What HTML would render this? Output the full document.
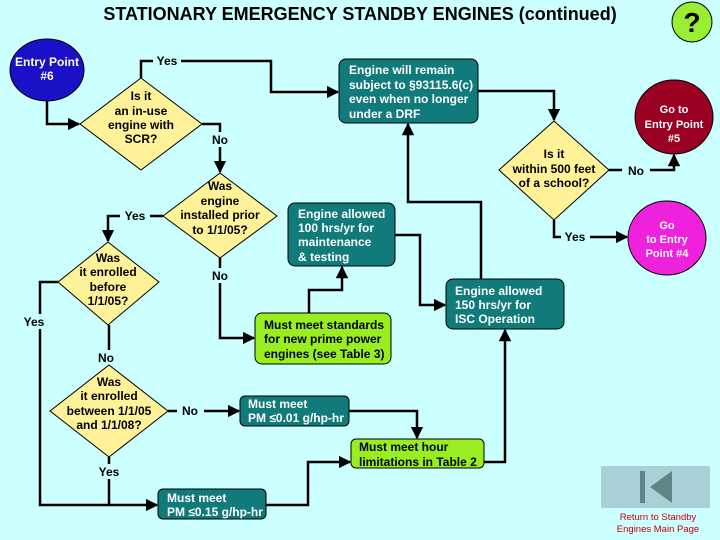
<!DOCTYPE html>
<html><head><meta charset="utf-8"><style>
html,body{margin:0;padding:0;background:#ccffff;}
svg{display:block;font-family:"Liberation Sans",Arial,sans-serif;font-weight:bold;}
</style></head><body>
<svg width="720" height="540" viewBox="0 0 720 540" xmlns="http://www.w3.org/2000/svg">
<defs><marker id="a" viewBox="0 0 10 10" refX="9" refY="5" markerWidth="5" markerHeight="5" orient="auto"><path d="M0,0L10,5L0,10z" fill="#000"/></marker></defs>
<rect width="720" height="540" fill="#ccffff"/>
<text x="360" y="20" text-anchor="middle" font-size="18" fill="#000">STATIONARY EMERGENCY STANDBY ENGINES (continued)</text>
<circle cx="692" cy="22" r="20" fill="#99ee33" stroke="#000" stroke-width="1"/>
<text x="692" y="32" text-anchor="middle" font-size="28" fill="#000">?</text>

<g stroke="#000" stroke-width="2.5" fill="none">
<polyline points="47,100 47,124 79,124" marker-end="url(#a)"/>
<polyline points="141,78 141,61 271,61 271,92 338,92" marker-end="url(#a)"/>
<polyline points="202,124 220,124 220,172" marker-end="url(#a)"/>
<polyline points="163,216 108,216 108,241" marker-end="url(#a)"/>
<polyline points="58,282 40,282 40,505 157,505" marker-end="url(#a)"/>
<polyline points="109,325 109,364" marker-end="url(#a)"/>
<polyline points="220,258 220,338 254,338" marker-end="url(#a)"/>
<polyline points="309,313 309,290 342,290 342,267" marker-end="url(#a)"/>
<polyline points="395,235 420,235 420,305 445,305" marker-end="url(#a)"/>
<polyline points="481,279 481,202 408,202 408,124" marker-end="url(#a)"/>
<polyline points="478,91 554,91 554,120" marker-end="url(#a)"/>
<polyline points="609,170 674,170 674,155" marker-end="url(#a)"/>
<polyline points="554,220 554,237 627,237" marker-end="url(#a)"/>
<polyline points="168,411 239,411" marker-end="url(#a)"/>
<polyline points="349,411 417,411 417,438" marker-end="url(#a)"/>
<polyline points="484,462 505,462 505,330" marker-end="url(#a)"/>
<polyline points="109,457 109,505"/>
<polyline points="266,505 308,505 308,462 350,462" marker-end="url(#a)"/>
</g>

<g font-size="12" fill="#000" text-anchor="middle">
<rect x="153" y="53" width="28" height="15" fill="#ccffff"/><text x="167" y="65">Yes</text>
<rect x="208" y="132" width="24" height="15" fill="#ccffff"/><text x="220" y="144">No</text>
<rect x="120" y="208" width="30" height="15" fill="#ccffff"/><text x="135" y="220">Yes</text>
<rect x="208" y="268" width="24" height="15" fill="#ccffff"/><text x="220" y="280">No</text>
<rect x="20" y="314" width="30" height="15" fill="#ccffff"/><text x="34" y="326">Yes</text>
<rect x="95" y="350" width="24" height="15" fill="#ccffff"/><text x="106" y="362">No</text>
<rect x="177" y="403" width="27" height="15" fill="#ccffff"/><text x="190" y="415">No</text>
<rect x="94" y="464" width="30" height="15" fill="#ccffff"/><text x="109" y="476">Yes</text>
<rect x="622" y="162" width="28" height="15" fill="#ccffff"/><text x="636" y="175">No</text>
<rect x="561" y="229" width="29" height="15" fill="#ccffff"/><text x="575" y="241">Yes</text>
</g>

<ellipse cx="47" cy="70" rx="37" ry="31" fill="#1a10c8" stroke="#000"/>
<g font-size="12" fill="#fff" text-anchor="middle"><text x="47" y="66">Entry Point</text><text x="47" y="80">#6</text></g>
<ellipse cx="674" cy="117" rx="39" ry="37" fill="#990022" stroke="#000"/>
<g font-size="11" fill="#fff" text-anchor="middle"><text x="674" y="113">Go to</text><text x="674" y="128">Entry Point</text><text x="674" y="142">#5</text></g>
<ellipse cx="667" cy="238" rx="39" ry="37" fill="#ee22dd" stroke="#000"/>
<g font-size="11" fill="#fff" text-anchor="middle"><text x="667" y="229">Go</text><text x="667" y="243">to Entry</text><text x="667" y="257">Point #4</text></g>

<g fill="#fff299" stroke="#000" stroke-width="1">
<polygon points="141,78 202,124 141,170 80,124"/>
<polygon points="220,173 277,216 220,258 163,216"/>
<polygon points="108,242 159,282 108,325 58,282"/>
<polygon points="109,365 168,411 109,457 50,411"/>
<polygon points="554,121 609,170 554,220 499,170"/>
</g>
<g font-size="12" fill="#000" text-anchor="middle">
<text x="141" y="100">Is it</text><text x="141" y="115">an in-use</text><text x="141" y="129">engine with</text><text x="141" y="143">SCR?</text>
<text x="220" y="190">Was</text><text x="220" y="205">engine</text><text x="220" y="219">installed prior</text><text x="220" y="234">to 1/1/05?</text>
<text x="108" y="262">Was</text><text x="108" y="276">it enrolled</text><text x="108" y="291">before</text><text x="108" y="305">1/1/05?</text>
<text x="109" y="386">Was</text><text x="109" y="400">it enrolled</text><text x="109" y="415">between 1/1/05</text><text x="109" y="429">and 1/1/08?</text>
<text x="554" y="158">Is it</text><text x="554" y="173">within 500 feet</text><text x="554" y="187">of a school?</text>
</g>

<g fill="#117a7a" stroke="#000" stroke-width="1">
<rect x="339" y="59" width="139" height="64" rx="7"/>
<rect x="288" y="203" width="107" height="63" rx="7"/>
<rect x="446" y="279" width="118" height="50" rx="7"/>
<rect x="240" y="396" width="109" height="30" rx="5"/>
<rect x="158" y="489" width="108" height="30" rx="5"/>
</g>
<g fill="#99ee22" stroke="#000" stroke-width="1">
<rect x="255" y="313" width="136" height="51" rx="7"/>
<rect x="351" y="439" width="133" height="29" rx="5"/>
</g>
<g font-size="12" fill="#fff">
<text x="349" y="74">Engine will remain</text><text x="349" y="89">subject to §93115.6(c)</text><text x="349" y="103">even when no longer</text><text x="349" y="118">under a DRF</text>
<text x="298" y="218">Engine allowed</text><text x="298" y="232">100 hrs/yr for</text><text x="298" y="246">maintenance</text><text x="298" y="261">&amp; testing</text>
<text x="455" y="295">Engine allowed</text><text x="455" y="309">150 hrs/yr for</text><text x="455" y="323">ISC Operation</text>
<text x="248" y="408">Must meet</text><text x="248" y="422">PM ≤0.01 g/hp-hr</text>
<text x="167" y="502">Must meet</text><text x="167" y="516">PM ≤0.15 g/hp-hr</text>
</g>
<g font-size="12" fill="#000">
<text x="264" y="329">Must meet standards</text><text x="264" y="343">for new prime power</text><text x="264" y="358">engines (see Table 3)</text>
<text x="359" y="451">Must meet hour</text><text x="359" y="466">limitations in Table 2</text>
</g>

<rect x="601" y="466" width="109" height="42" fill="#a9d0d6"/>
<rect x="640" y="471" width="5" height="32" fill="#5f8585"/>
<polygon points="672,471 672,503 650,487" fill="#5f8585"/>
<g font-size="9.5" fill="#cc0000" text-anchor="middle" font-weight="normal"><text x="658" y="520">Return to Standby</text><text x="658" y="532">Engines Main Page</text></g>
</svg>
</body></html>
